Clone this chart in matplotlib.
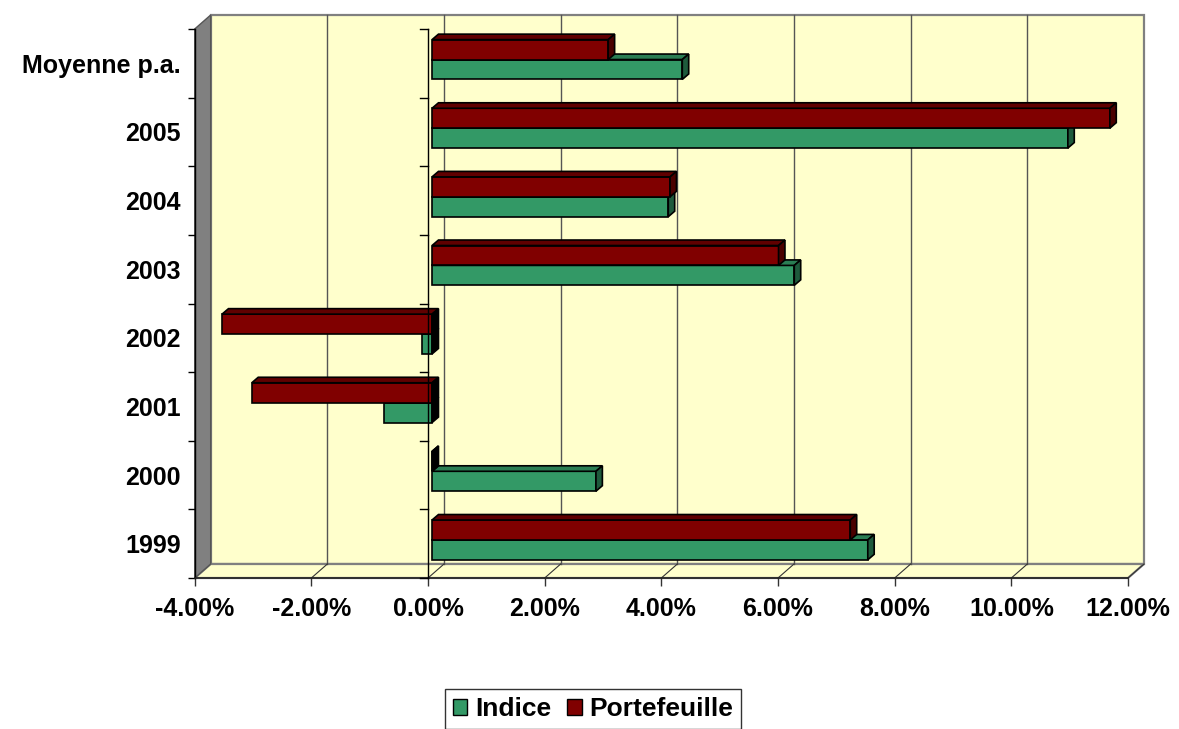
import numpy as np
import matplotlib
matplotlib.use("Agg")
import matplotlib.pyplot as plt
from matplotlib.patches import Polygon, Patch

# ---- data (percent) ----
categories = ["1999", "2000", "2001", "2002", "2003", "2004", "2005", "Moyenne p.a."]
indice = [7.47, 2.81, -0.82, -0.18, 6.21, 4.05, 10.90, 4.29]
portefeuille = [7.17, 0.00, -3.09, -3.60, 5.94, 4.08, 11.62, 3.02]
x_ticks = [-4, -2, 0, 2, 4, 6, 8, 10, 12]

plt.rcParams["font.family"] = ["Liberation Sans", "DejaVu Sans"]
plt.rcParams["font.weight"] = "bold"

W, H = 1179, 729
fig = plt.figure(figsize=(W / 100, H / 100), dpi=100)
ax = fig.add_axes([194.7 / W, 151 / H, 933.3 / W, 549 / H])
ax.set_xlim(-4, 12)
ax.set_ylim(0, len(categories))
ax.patch.set_visible(False)

# 3D depth of the walls, in data units
DX, DY = 0.274, 0.204
n = len(categories)
wall_yellow = "#FFFFCC"
wall_grey = "#808080"

# back wall
ax.add_patch(Polygon([(-4 + DX, DY), (12 + DX, DY), (12 + DX, n + DY), (-4 + DX, n + DY)],
                     closed=True, facecolor=wall_yellow, edgecolor=wall_grey, lw=1.6,
                     zorder=0, clip_on=False))
# floor
ax.add_patch(Polygon([(-4, 0), (12, 0), (12 + DX, DY), (-4 + DX, DY)],
                     closed=True, facecolor=wall_yellow, edgecolor=wall_grey, lw=1.6,
                     zorder=0.5, clip_on=False))
# left wall
ax.add_patch(Polygon([(-4, 0), (-4, n), (-4 + DX, n + DY), (-4 + DX, DY)],
                     closed=True, facecolor=wall_grey, edgecolor="#555555", lw=1.0,
                     zorder=0.6, clip_on=False))

# gridlines on back wall and floor
for v in x_ticks[1:-1]:
    ax.plot([v + DX, v + DX], [DY, n + DY], color="#555555", lw=1.0, zorder=1, clip_on=False)
for v in x_ticks[1:]:
    ax.plot([v, v + DX], [0, DY], color="#333333", lw=0.8, zorder=1, clip_on=False)

# bars
fdx, fdy = 0.069, 0.055      # front face offset from front plane
bdx, bdy = 0.11, 0.08        # bar depth
bh = 0.29
series = [
    (indice, -0.5 * bh, "#339966", "#2A7D53", "#1E5A3C"),
    (portefeuille, 0.5 * bh, "#800000", "#600000", "#4A0000"),
]
z = 3
for i in range(n):
    for vals, off, c_front, c_top, c_side in series:
        v = vals[i]
        yc = i + 0.5 + fdy + off
        y0, y1 = yc - bh / 2, yc + bh / 2
        x0, x1 = min(0, v) + fdx, max(0, v) + fdx
        ax.barh(yc, v, left=fdx, height=bh, color=c_front, edgecolor="black",
                lw=1.2, zorder=z)
        ax.add_patch(Polygon([(x0, y1), (x1, y1), (x1 + bdx, y1 + bdy), (x0 + bdx, y1 + bdy)],
                             closed=True, facecolor=c_top, edgecolor="black", lw=1.2,
                             zorder=z, clip_on=False))
        side = c_side if v > 0 else "black"
        ax.add_patch(Polygon([(x1, y0), (x1 + bdx, y0 + bdy), (x1 + bdx, y1 + bdy), (x1, y1)],
                             closed=True, facecolor=side, edgecolor="black", lw=1.2,
                             zorder=z, clip_on=False))
        z += 0.01

# zero category axis with its ticks
ax.plot([0, 0], [0, n], color="black", lw=1.0, zorder=10, clip_on=False)
for k in range(n + 1):
    ax.plot([-0.137, 0], [k, k], color="black", lw=1.0, zorder=10, clip_on=False)

# axes, ticks, labels
for s in ["top", "right"]:
    ax.spines[s].set_visible(False)
ax.spines["bottom"].set_color("#222222")
ax.spines["bottom"].set_linewidth(1.2)
ax.spines["left"].set_color("black")
ax.spines["left"].set_linewidth(1.0)
ax.spines["bottom"].set_zorder(2)
ax.spines["left"].set_zorder(2)

ax.set_xticks(x_ticks)
ax.set_xticklabels([f"{v:.2f}%" for v in x_ticks])
ax.tick_params(axis="x", direction="out", length=5.8, width=1.0, color="#333333",
               labelsize=18, pad=8)
ax.set_yticks(np.arange(n + 1))
ax.set_yticklabels([])
ax.set_yticks(np.arange(n) + 0.5, minor=True)
ax.set_yticklabels(categories, minor=True)
ax.tick_params(axis="y", which="major", direction="out", length=5, width=1.0, color="black")
ax.tick_params(axis="y", which="minor", length=0, labelsize=18, pad=10)

handles = [Patch(facecolor="#339966", edgecolor="black", label="Indice"),
           Patch(facecolor="#800000", edgecolor="black", label="Portefeuille")]
leg = fig.legend(handles=handles, loc="upper center", bbox_to_anchor=(593 / W, 40 / H),
                 ncol=2, fontsize=19, frameon=True, fancybox=False, handlelength=0.55,
                 handleheight=0.55, handletextpad=0.3, columnspacing=0.6, borderpad=0.3,
                 borderaxespad=0)
leg.get_frame().set_edgecolor("black")
leg.get_frame().set_linewidth(1.0)

fig.savefig("out.png", dpi=100)
